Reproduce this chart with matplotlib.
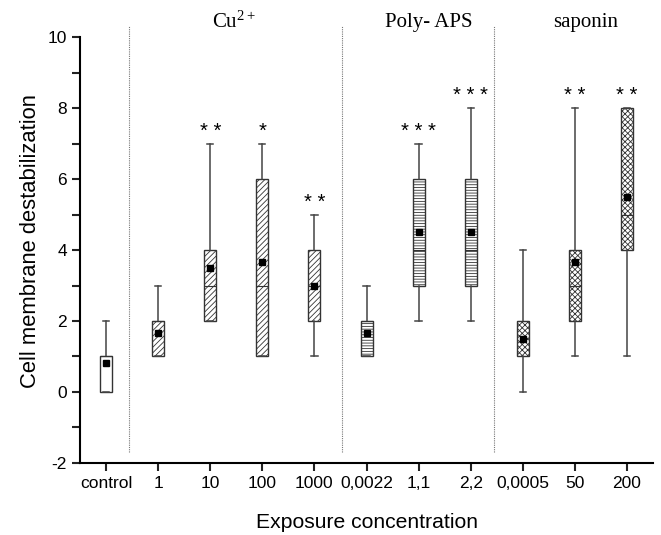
import matplotlib
matplotlib.use("Agg")
import matplotlib.pyplot as plt

plt.rcParams['font.family'] = 'Liberation Sans'
plt.rcParams['hatch.linewidth'] = 0.6
plt.rcParams['mathtext.fontset'] = 'custom'
plt.rcParams['mathtext.rm'] = 'Liberation Serif'

# tick labels along x
labels = ["control", "1", "10", "100", "1000", "0,0022", "1,1", "2,2", "0,0005", "50", "200"]
# box statistics
whislo = [0, 1, 2, 1, 1, 1, 2, 2, 0, 1, 1]
q1 = [0, 1, 2, 1, 2, 1, 3, 3, 1, 2, 4]
med = [1, 2, 3, 3, 3, 2, 4, 4, 2, 3, 5]
q3 = [1, 2, 4, 6, 4, 2, 6, 6, 2, 4, 8]
whishi = [2, 3, 7, 7, 5, 3, 7, 8, 4, 8, 8]
means = [0.83, 1.67, 3.5, 3.67, 3.0, 1.67, 4.5, 4.5, 1.5, 3.67, 5.5]
hatches = ["", "//////", "//////", "//////", "//////", "------", "------", "------",
           "xxxxxx", "xxxxxx", "xxxxxx"]
stars = ["", "", "* *", "*", "* *", "", "* * *", "* * *", "", "* *", "* *"]

groups = ["Cu$\\mathrm{^{2+}}$", "Poly- APS", "saponin"]
group_x = [3.45, 7.2, 10.2]
separators = [1.45, 5.52, 8.45]

fig = plt.figure(figsize=(6.61, 5.35), dpi=100)
ax = fig.add_axes([0.121, 0.1346, 0.867, 0.7962])

stats = []
for i in range(len(labels)):
    stats.append(dict(whislo=whislo[i], q1=q1[i], med=med[i], q3=q3[i],
                      whishi=whishi[i], mean=means[i], fliers=[]))

pos = list(range(1, len(labels) + 1))
b = ax.bxp(stats, positions=pos, widths=0.23, patch_artist=True, showmeans=True,
           showfliers=False, capwidths=0.12,
           boxprops=dict(facecolor="white", edgecolor="#333333", linewidth=1.0),
           medianprops=dict(color="#333333", linewidth=0.8),
           whiskerprops=dict(color="#444444", linewidth=1.1),
           capprops=dict(color="#444444", linewidth=1.1),
           meanprops=dict(marker="s", markerfacecolor="black", markeredgecolor="black",
                          markersize=4.5))
for patch, h in zip(b["boxes"], hatches):
    patch.set_hatch(h)

for i, s in enumerate(stars):
    if s:
        ax.text(pos[i], whishi[i] + 0.08, s, ha="center", va="bottom", fontsize=14.5)

for xs in separators:
    ax.plot([xs, xs], [-1.7, 10.3], color="#777777", linestyle=(0, (1, 1)),
            linewidth=0.8, clip_on=False)

for g, gx in zip(groups, group_x):
    ax.text(gx, 10.42, g, ha="center", va="center", fontsize=15,
            family="Liberation Serif")

ax.set_xlim(0.5, 11.5)
ax.set_ylim(-2, 10)
ax.set_xticks(pos)
ax.set_xticklabels(labels)
ax.set_yticks(range(-2, 11))
ax.set_yticklabels([str(v) if v % 2 == 0 else "" for v in range(-2, 11)])
ax.tick_params(axis="both", labelsize=12.5, width=1.5, length=6, color="#222222")
ax.spines["top"].set_visible(False)
ax.spines["right"].set_visible(False)
ax.spines["left"].set_linewidth(1.5)
ax.spines["bottom"].set_linewidth(1.5)
ax.set_ylabel("Cell membrane destabilization", fontsize=15.8)
ax.yaxis.set_label_coords(-0.068, 0.52)
ax.set_xlabel("Exposure concentration", fontsize=15.2, labelpad=16)

fig.savefig("out.png", dpi=100)
